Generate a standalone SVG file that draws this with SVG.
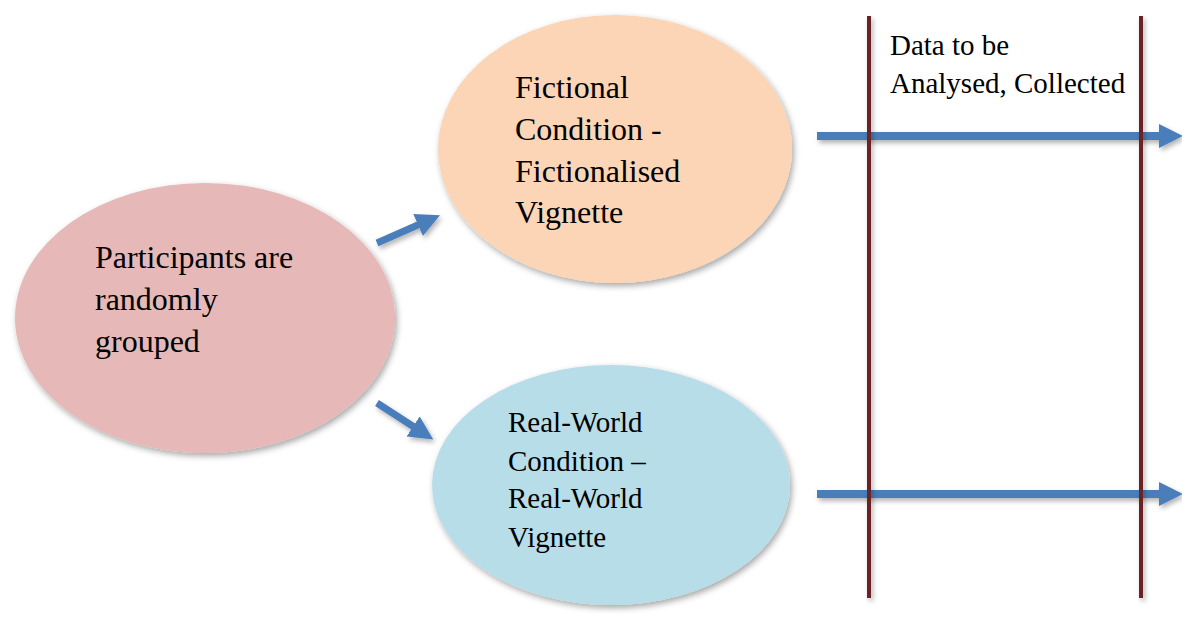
<svg xmlns="http://www.w3.org/2000/svg" width="1182" height="621" viewBox="0 0 1182 621">
<style>
.t{font-family:"Liberation Serif","Times New Roman",serif;fill:#000}
.big{font-size:32px}
.mid{font-size:29px}
.arr{stroke:#4a7ebb;fill:none}
.vline{stroke:#6b2424;stroke-width:4}
</style>
<defs>
<filter id="sh" x="-20%" y="-20%" width="140%" height="140%">
<feDropShadow dx="2" dy="3" stdDeviation="3" flood-color="#000" flood-opacity="0.35"/>
</filter>
<filter id="sh2" filterUnits="userSpaceOnUse" x="0" y="0" width="1182" height="621">
<feDropShadow dx="2" dy="3" stdDeviation="2.5" flood-color="#000" flood-opacity="0.3"/>
</filter>
<marker id="ah" markerUnits="userSpaceOnUse" markerWidth="24" markerHeight="24" viewBox="0 0 23 23" refX="1" refY="11.5" orient="auto">
<path d="M0,0 L23,11.5 L0,23 z" fill="#4a7ebb"/>
</marker>
</defs>
<rect width="1182" height="621" fill="#fff"/>
<g id="node-participants">
<ellipse cx="205" cy="318" rx="190" ry="135" fill="#e6b8b7" filter="url(#sh)"/>
<text class="t big" x="95" y="268">Participants are</text>
<text class="t big" x="95" y="310">randomly</text>
<text class="t big" x="95" y="352">grouped</text>
</g>
<g id="node-fictional">
<ellipse cx="615" cy="149" rx="177" ry="134" fill="#fbd5b5" filter="url(#sh)"/>
<text class="t big" x="515" y="98">Fictional</text>
<text class="t big" x="515" y="140">Condition -</text>
<text class="t big" x="515" y="182">Fictionalised</text>
<text class="t big" x="515" y="223">Vignette</text>
</g>
<g id="node-realworld">
<ellipse cx="611" cy="485" rx="179" ry="120" fill="#b7dde8" filter="url(#sh)"/>
<text class="t mid" x="508" y="432">Real-World</text>
<text class="t mid" x="508" y="471">Condition –</text>
<text class="t mid" x="508" y="508">Real-World</text>
<text class="t mid" x="508" y="547">Vignette</text>
</g>
<g id="node-data">
<text class="t mid" x="890" y="55">Data to be</text>
<text class="t mid" x="890" y="93">Analysed, Collected</text>
</g>
<g id="connectors">
<line class="arr" x1="377" y1="243" x2="419" y2="224.5" stroke-width="7" marker-end="url(#ah)" filter="url(#sh2)"/>
<line class="arr" x1="377" y1="403" x2="414" y2="427" stroke-width="7" marker-end="url(#ah)" filter="url(#sh2)"/>
<line class="arr" x1="817" y1="136" x2="1160" y2="136" stroke-width="8" marker-end="url(#ah)" filter="url(#sh2)"/>
<line class="arr" x1="817" y1="494" x2="1160" y2="494" stroke-width="8" marker-end="url(#ah)" filter="url(#sh2)"/>
<line class="vline" x1="869" y1="16" x2="869" y2="598" filter="url(#sh2)"/>
<line class="vline" x1="1141" y1="16" x2="1141" y2="598" filter="url(#sh2)"/>
</g>
</svg>
